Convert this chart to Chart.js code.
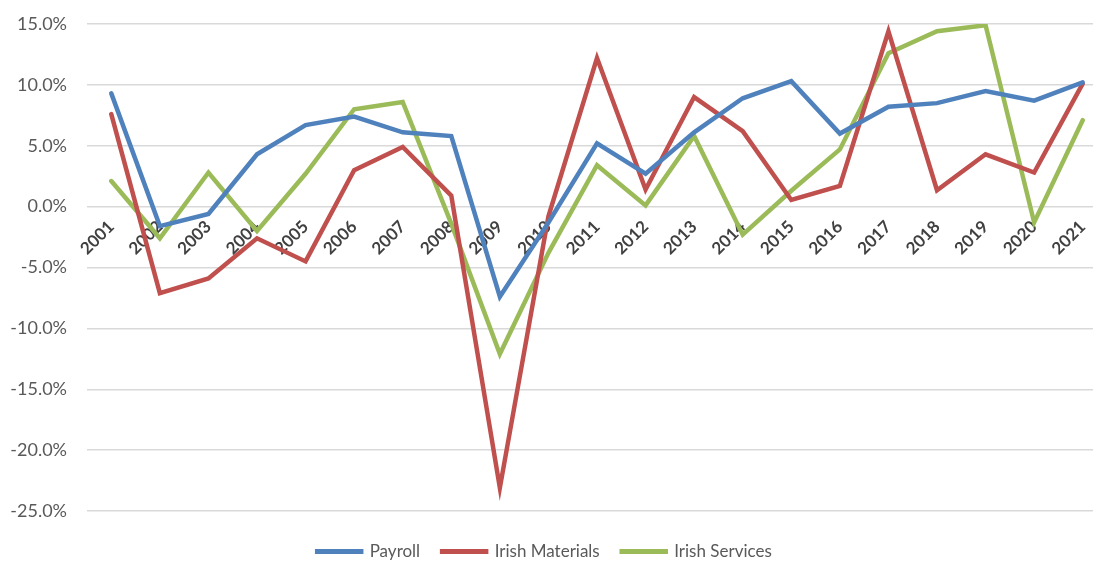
<!DOCTYPE html>
<html><head><meta charset="utf-8">
<script src="https://cdn.jsdelivr.net/npm/chart.js@4.4.0/dist/chart.umd.min.js"></script>
<style>
html,body{margin:0;padding:0;overflow:hidden;background:#fff;width:1093px;height:561px}
#wrap{width:1110px;height:570px;position:absolute;left:0;top:0}
</style></head>
<body><div id="wrap"><canvas id="c" width="1110" height="570"></canvas></div>
<script>
const years = ['2001','2002','2003','2004','2005','2006','2007','2008','2009','2010','2011','2012','2013','2014','2015','2016','2017','2018','2019','2020','2021'];
const payroll = [9.3,-1.6,-0.6,4.3,6.7,7.4,6.1,5.8,-7.4,-1.3,5.2,2.7,6.1,8.9,10.3,6.0,8.2,8.5,9.5,8.7,10.2];
const irishMaterials = [7.6,-7.1,-5.9,-2.6,-4.5,3.0,4.9,0.9,-23.1,-0.8,12.2,1.4,9.0,6.2,0.55,1.7,14.4,1.35,4.3,2.8,10.1];
const irishServices = [2.1,-2.6,2.8,-2.0,2.7,8.0,8.6,-1.4,-12.1,-3.8,3.4,0.1,5.8,-2.3,1.3,4.7,12.6,14.4,14.9,-1.3,7.1];
const yMin = -25, yMax = 15, yStep = 5;

const FONT = 'Lato, "Open Sans", sans-serif';
const mk = (label, data, color) => ({
  label, data, borderColor: color, backgroundColor: color,
  borderWidth: 4.5, pointRadius: 0, tension: 0, fill: false,
  borderCapStyle: 'round', borderJoinStyle: 'miter'
});

const legendShift = {
  id: 'legendShift',
  afterLayout(chart) {
    const lg = chart.legend;
    if (lg) { lg.left -= 9; lg.right -= 9; }
  }
};

new Chart(document.getElementById('c'), {
  type: 'line',
  data: {
    labels: years,
    datasets: [
      mk('Payroll', payroll, '#4F81BD'),
      mk('Irish Materials', irishMaterials, '#C0504D'),
      mk('Irish Services', irishServices, '#9BBB59')
    ]
  },
  plugins: [legendShift],
  options: {
    responsive: false, animation: false, devicePixelRatio: 1,
    layout: { padding: { top: 24, right: 3, left: 0, bottom: 0 } },
    plugins: {
      legend: {
        position: 'bottom',
        title: { display: true, text: ' ', padding: 0, font: { size: 10, lineHeight: 1 } },
        labels: { boxWidth: 44, boxHeight: 0.5, padding: 22, color: '#595959', font: { family: FONT, size: 17 } }
      },
      tooltip: { enabled: false }
    },
    scales: {
      x: {
        type: 'category', offset: true, position: { y: 0 },
        grid: { display: false }, border: { display: false },
        ticks: { minRotation: 45, maxRotation: 45, autoSkip: false, color: '#404040', padding: 2,
                 font: { family: FONT, size: 17, weight: 'bold' } }
      },
      y: {
        min: yMin, max: yMax,
        ticks: { stepSize: yStep, callback: v => v.toFixed(1) + '%', color: '#595959', padding: 20,
                 font: { family: FONT, size: 18 } },
        grid: { color: '#d9d9d9', lineWidth: 1.5, drawTicks: false },
        border: { display: false },
        afterFit(s) { s.width = 87; s.paddingTop = 0; s.paddingBottom = 0; }
      }
    }
  }
});
</script>
</body></html>
